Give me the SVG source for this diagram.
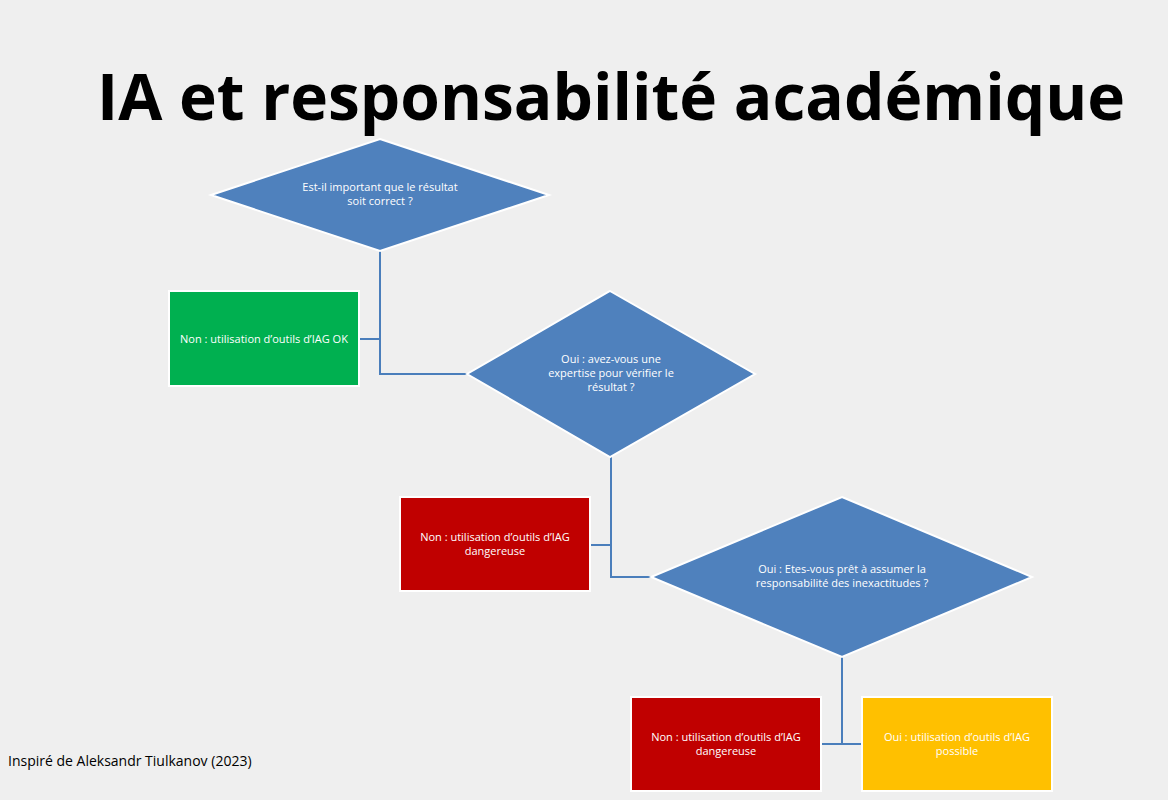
<svg xmlns="http://www.w3.org/2000/svg" width="1168" height="800" viewBox="0 0 1168 800">
<style>
.d{fill:#4F81BD;stroke:#fff;stroke-width:2}
.r{stroke:#fff;stroke-width:2}
.t{font-family:"Open Sans","Liberation Sans",sans-serif;font-size:11px;fill:#fff;text-anchor:middle}
.c{fill:none;stroke:#4A7EBB;stroke-width:2}
</style>
<rect width="1168" height="800" fill="#EFEFEF"/>
<text x="611" y="120" font-family="Open Sans, Liberation Sans, sans-serif" font-weight="bold" font-size="64" text-anchor="middle" fill="#000">IA et responsabilité académique</text>
<g id="connectors">
<polyline class="c" points="380,251 380,374 467,374"/>
<line class="c" x1="359" y1="339" x2="380" y2="339"/>
<polyline class="c" points="611,457 611,577 651,577"/>
<line class="c" x1="590" y1="545" x2="611" y2="545"/>
<line class="c" x1="842" y1="657" x2="842" y2="744"/>
<line class="c" x1="821" y1="744" x2="862" y2="744"/>
</g>
<g id="q1"><polygon class="d" points="380,139 549,195 380,251 211,195"/>
<text class="t" x="380" y="191">Est-il important que le résultat</text><text class="t" x="380" y="205">soit correct ?</text></g>
<g id="ok"><rect class="r" x="169" y="291" width="190" height="95" fill="#00B050"/>
<text class="t" x="264" y="343">Non : utilisation d’outils d’IAG  OK</text></g>
<g id="q2"><polygon class="d" points="610,291 755,374 610,457 467,374"/>
<text class="t" x="611" y="363">Oui : avez-vous une</text><text class="t" x="611" y="377">expertise pour vérifier le</text><text class="t" x="611" y="391">résultat ?</text></g>
<g id="danger1"><rect class="r" x="400" y="497" width="190" height="94" fill="#C00000"/>
<text class="t" x="495" y="541">Non : utilisation d’outils d’IAG</text><text class="t" x="495" y="555">dangereuse</text></g>
<g id="q3"><polygon class="d" points="842,497 1032,577 842,657 651,577"/>
<text class="t" x="842" y="573">Oui : Etes-vous prêt à assumer la</text><text class="t" x="842" y="587">responsabilité des inexactitudes ?</text></g>
<g id="danger2"><rect class="r" x="631" y="697" width="190" height="94" fill="#C00000"/>
<text class="t" x="726" y="741">Non : utilisation d’outils d’IAG</text><text class="t" x="726" y="755">dangereuse</text></g>
<g id="possible"><rect class="r" x="862" y="697" width="190" height="94" fill="#FFC000"/>
<text class="t" x="957" y="741">Oui : utilisation d’outils d’IAG</text><text class="t" x="957" y="755">possible</text></g>
<text x="8" y="766" font-family="Open Sans, Liberation Sans, sans-serif" font-size="14" fill="#000">Inspiré de Aleksandr Tiulkanov (2023)</text>
</svg>
